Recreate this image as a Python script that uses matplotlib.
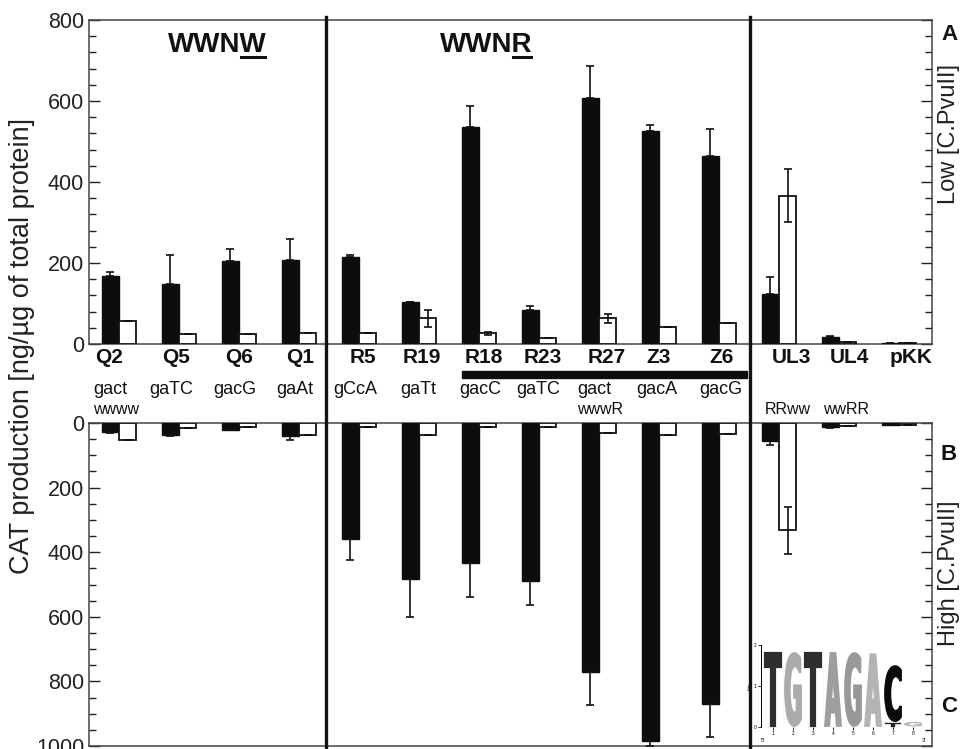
import numpy as np
import matplotlib
matplotlib.use("Agg")
import matplotlib.pyplot as plt
import matplotlib.transforms as mtransforms
from matplotlib.patches import Rectangle, PathPatch
from matplotlib.lines import Line2D
from matplotlib.textpath import TextPath
from matplotlib.font_manager import FontProperties
from matplotlib.ticker import MultipleLocator

plt.rcParams['font.family'] = ['Liberation Sans', 'DejaVu Sans']

# ---- data ----
samples = ['Q2', 'Q5', 'Q6', 'Q1', 'R5', 'R19', 'R18', 'R23', 'R27', 'Z3', 'Z6',
           'UL3', 'UL4', 'pKK']
seqs = ['gact', 'gaTC', 'gacG', 'gaAt', 'gCcA', 'gaTt', 'gacC', 'gaTC', 'gact',
        'gacA', 'gacG']
seqs2 = {0: 'wwww', 8: 'wwwR', 11: 'RRww', 12: 'wwRR'}

# panel A: low [C.PvuII]
low_black = [168, 148, 204, 207, 214, 104, 536, 85, 607, 526, 463, 123, 17, 2]
low_black_err = [10, 72, 31, 53, 6, 0, 52, 10, 80, 15, 69, 42, 3, 0]
low_white = [58, 24, 24, 27, 26, 63, 26, 14, 63, 41, 51, 366, 6, 2]
low_white_err = [0, 0, 0, 0, 0, 21, 3, 0, 12, 0, 0, 65, 0, 0]

# panel B: high [C.PvuII]
high_black = [27, 36, 21, 39, 359, 483, 434, 489, 770, 984, 869, 55, 12, 7]
high_black_err = [5, 3, 0, 13, 66, 118, 105, 76, 104, 16, 102, 14, 3, 0]
high_white = [52, 14, 11, 36, 11, 36, 11, 11, 32, 36, 34, 332, 9, 7]
high_white_err = [0, 0, 0, 0, 0, 0, 0, 0, 0, 0, 0, 73, 0, 0]

# panel C: sequence logo
logo_letters = ['T', 'G', 'T', 'A', 'G', 'A', 'C']
logo_heights = [1.83, 1.83, 1.83, 1.83, 1.83, 1.8, 1.39]
logo_base = [0, 0, 0, 0, 0, 0, 0.12]
logo_colors = ['#2e2e2e', '#ababab', '#2e2e2e', '#9e9e9e', '#989898', '#b4b4b4', '#0a0a0a']

# label placement tweaks (fraction of a group)
name_dx = [-0.17, -0.05, 0, 0.02, 0.07, 0.05, 0.08, 0.07, 0.12, 0, 0.05, 0.2, 0.17, 0.2]
seq_dx = [-0.15, -0.13, -0.07, -0.07, -0.07, -0.02, 0.02, -0.02, -0.08, -0.03, 0.03]

W, H = 961, 749
fig = plt.figure(figsize=(W / 100, H / 100), dpi=100)


def fx(px):
    return px / W


def fy(px):
    return 1 - px / H


x = np.arange(len(samples))
bw = 0.29
ekw = dict(ecolor='#111111', elinewidth=1.2, capsize=3.2, capthick=1.2)

axA = fig.add_axes([fx(89), fy(344), fx(932 - 89), (344 - 20) / H])
axB = fig.add_axes([fx(89), fy(746), fx(932 - 89), (746 - 423) / H])

for ax, blk, blk_e, wht, wht_e, minor in [
        (axA, low_black, low_black_err, low_white, low_white_err, 40),
        (axB, high_black, high_black_err, high_white, high_white_err, 50)]:
    z = np.zeros(len(x))
    ax.bar(x - bw / 2, blk, bw, color='#0d0d0d', edgecolor='#0d0d0d', lw=1,
           yerr=[z, blk_e], error_kw=ekw, zorder=3)
    we = np.array(wht_e)
    ax.bar(x + bw / 2, wht, bw, color='white', edgecolor='#111111', lw=1.3,
           yerr=[we, we], error_kw=ekw, zorder=3)
    ax.set_xlim(-0.5, 13.55)
    ax.set_xticks([])
    ax.yaxis.set_major_locator(MultipleLocator(200))
    ax.yaxis.set_minor_locator(MultipleLocator(minor))
    ax.tick_params(axis='y', which='both', direction='in', right=True,
                   labelsize=15.5, colors='#222222')
    ax.tick_params(axis='y', which='major', length=8, width=1)
    ax.tick_params(axis='y', which='minor', length=5, width=1)
    for s in ax.spines.values():
        s.set_color('#444444')
        s.set_linewidth(1.1)

axA.set_ylim(0, 800)
axB.set_ylim(1000, 0)
axB.set_yticks([0, 200, 400, 600, 800, 1000])

# group titles with underlined last letter
fig.canvas.draw()
rend = fig.canvas.get_renderer()
for title, cx in [('WWNW', 217), ('WWNR', 486)]:
    tkw = dict(fontsize=20, fontweight='bold', va='center', color='#111111')
    t = fig.text(fx(cx), fy(45), title, ha='center', **tkw)
    bb = t.get_window_extent(rend)
    tmp = fig.text(bb.x0 / fig.bbox.width, fy(45), title[:-1], ha='left', **tkw)
    bb2 = tmp.get_window_extent(rend)
    tmp.remove()
    yl = bb.y0 + 1
    fig.add_artist(Line2D([(bb2.x1 + 1) / fig.bbox.width, (bb.x1 - 1) / fig.bbox.width],
                          [yl / fig.bbox.height] * 2, color='#111111', lw=2.2))

# labels between the panels
tr = mtransforms.blended_transform_factory(axA.transData, fig.transFigure)
for i, name in enumerate(samples):
    fig.text(x[i] + name_dx[i], fy(358), name, transform=tr, ha='center', va='center',
             fontsize=15, fontweight='bold', color='#111111')
for i, s in enumerate(seqs):
    fig.text(x[i] + seq_dx[i], fy(389), s, transform=tr, ha='center', va='center',
             fontsize=13, color='#111111')
for i, s in seqs2.items():
    if i in (0, 8):
        fig.text(x[i] + seq_dx[i] - 0.28, fy(409), s, transform=tr, ha='left',
                 va='center', fontsize=11.5, color='#111111')
    else:
        fig.text(x[i] + name_dx[i] - 0.05, fy(409), s, transform=tr, ha='center',
                 va='center', fontsize=11.5, color='#111111')

# black band under the R18..Z6 constructs
fig.add_artist(Rectangle((x[6] - 0.28, fy(378)), 10.47 - (x[6] - 0.28), 7 / H,
                         transform=tr, color='#0d0d0d'))

# vertical dividers through both panels
for xv in (3.45, 10.52):
    fig.add_artist(Line2D([xv, xv], [fy(17), fy(747)], transform=tr,
                          color='#111111', lw=2.4))

# axis / panel labels
fig.text(fx(22), fy(346), 'CAT production [ng/µg of total protein]', rotation=90,
         ha='center', va='center', fontsize=19.5, color='#222222')
fig.text(fx(949), fy(134), 'Low [C.PvuII]', rotation=90, ha='center', va='center',
         fontsize=17, color='#222222')
fig.text(fx(949), fy(573), 'High [C.PvuII]', rotation=90, ha='center', va='center',
         fontsize=17, color='#222222')
for lab, yp in [('A', 34), ('B', 454), ('C', 707)]:
    fig.text(fx(949), fy(yp), lab, ha='center', va='center', fontsize=16,
             fontweight='bold', color='#111111')

# sequence logo inset
axC = fig.add_axes([fx(761), fy(727), fx(925 - 761), 82 / H])
axC.set_xlim(0.4, 8.6)
axC.set_ylim(0, 2)
fp = FontProperties(family='DejaVu Sans', weight='bold')


def draw_letter(ax, ch, xc, y0, w, h, color, stroke=1.6):
    tp = TextPath((0, 0), ch, size=1, prop=fp)
    e = tp.get_extents()
    tf = mtransforms.Affine2D().translate(-e.x0, -e.y0).scale(w / e.width, h / e.height) \
        .translate(xc - w / 2, y0)
    ax.add_patch(PathPatch(tf.transform_path(tp), fc=color, ec=color, lw=stroke,
                           joinstyle='miter', clip_on=False))


for k, (ch, h, b, c) in enumerate(zip(logo_letters, logo_heights, logo_base, logo_colors)):
    draw_letter(axC, ch, k + 1, b + 0.03, 0.78, h - 0.06, c)
draw_letter(axC, 'T', 7, 0, 0.8, 0.1, '#222222', stroke=0.3)
draw_letter(axC, 'G', 8, 0.02, 0.9, 0.1, '#b8b8b8', stroke=0.3)
axC.set_xticks(range(1, 9))
axC.set_yticks([0, 1, 2])
axC.tick_params(labelsize=3.5, length=2, width=0.6, pad=1)
axC.set_ylabel('bits', fontsize=3.5, labelpad=1)
for s in ['top', 'right', 'bottom']:
    axC.spines[s].set_visible(False)
axC.spines['left'].set_linewidth(0.7)
axC.patch.set_alpha(0)
fig.text(fx(763), fy(741), "5'", fontsize=4, ha='center', va='center')
fig.text(fx(924), fy(741), "3'", fontsize=4, ha='center', va='center')

fig.savefig('out.png', dpi=100, facecolor='white')
